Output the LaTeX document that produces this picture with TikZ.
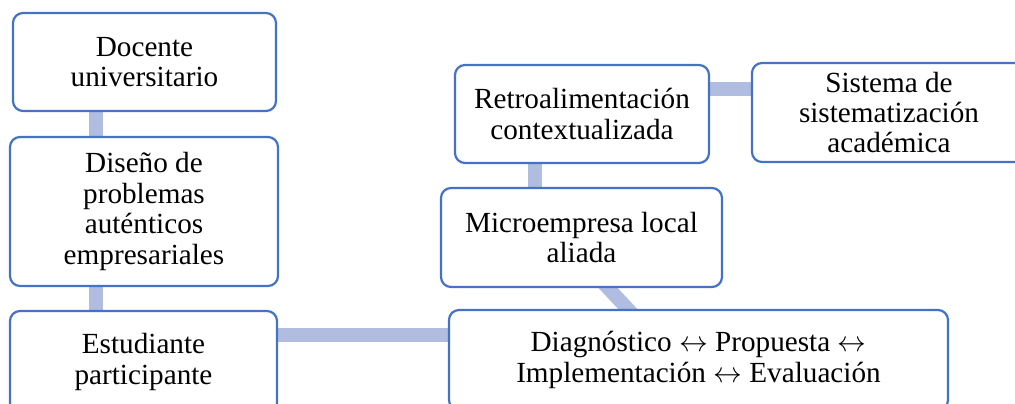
\documentclass[tikz,border=0pt]{standalone}
\usepackage{fontspec}
\setmainfont{Liberation Serif}
\usepackage{xcolor}
\usepackage{tikz}
\usetikzlibrary{backgrounds}
\definecolor{boxblue}{HTML}{4472C4}
\definecolor{linkblue}{HTML}{B0BCE0}

\begin{document}
\begin{tikzpicture}[x=0.5pt, y=-0.5pt,
    box/.style={draw=boxblue, fill=white, line width=1.1pt, rounded corners=5pt,
                align=center, inner sep=0pt,
                font=\fontsize{14.6}{15.2}\selectfont},
    link/.style={draw=linkblue, line width=7pt}]
  \useasboundingbox (0,0) rectangle (1015,403);

  % left column
  \node[box, minimum width=131.5pt, minimum height=49pt] (docente) at (144.5,62)
    {Docente\\universitario};
  \node[box, minimum width=134pt, minimum height=74.5pt] (diseno) at (144,211.5)
    {Dise\~no de\\problemas\\aut\'enticos\\empresariales};
  \node[box, minimum width=133.5pt, minimum height=51pt] (estudiante) at (143.5,362)
    {Estudiante\\participante};

  % right part
  \node[box, minimum width=249.5pt, minimum height=50pt] (diag) at (698.5,360)
    {Diagn\'ostico $\leftrightarrow$ Propuesta $\leftrightarrow$\\Implementaci\'on $\leftrightarrow$ Evaluaci\'on};
  \node[box, minimum width=140.5pt, minimum height=49.5pt] (micro) at (581.5,237.5)
    {Microempresa local\\aliada};
  \node[box, minimum width=127pt, minimum height=49pt] (retro) at (582,114)
    {Retroalimentaci\'on\\contextualizada};
  \node[box, minimum width=137pt, minimum height=49.5pt] (sistema) at (889,112.5)
    {Sistema de\\sistematizaci\'on\\acad\'emica};

  % connectors, behind the boxes
  \begin{scope}[on background layer]
    \draw[link] ([xshift=-24.5pt]docente.south) -- ([xshift=-24.5pt]docente.south |- diseno.north);
    \draw[link] ([xshift=-24.25pt]diseno.south) -- ([xshift=-24.25pt]diseno.south |- estudiante.north);
    \draw[link] ([yshift=13.5pt]estudiante.east) -- ([yshift=13.5pt]estudiante.east -| diag.west);
    \draw[link] ([xshift=7.75pt, yshift=6pt]micro.south) -- ([xshift=-30.75pt, yshift=-5pt]diag.north);
    \draw[link] ([xshift=-23.75pt]retro.south) -- ([xshift=-23.75pt]retro.south |- micro.north);
    \draw[link] ([yshift=12.75pt]retro.east) -- ([yshift=12.75pt]retro.east -| sistema.west);
  \end{scope}
\end{tikzpicture}
\end{document}
